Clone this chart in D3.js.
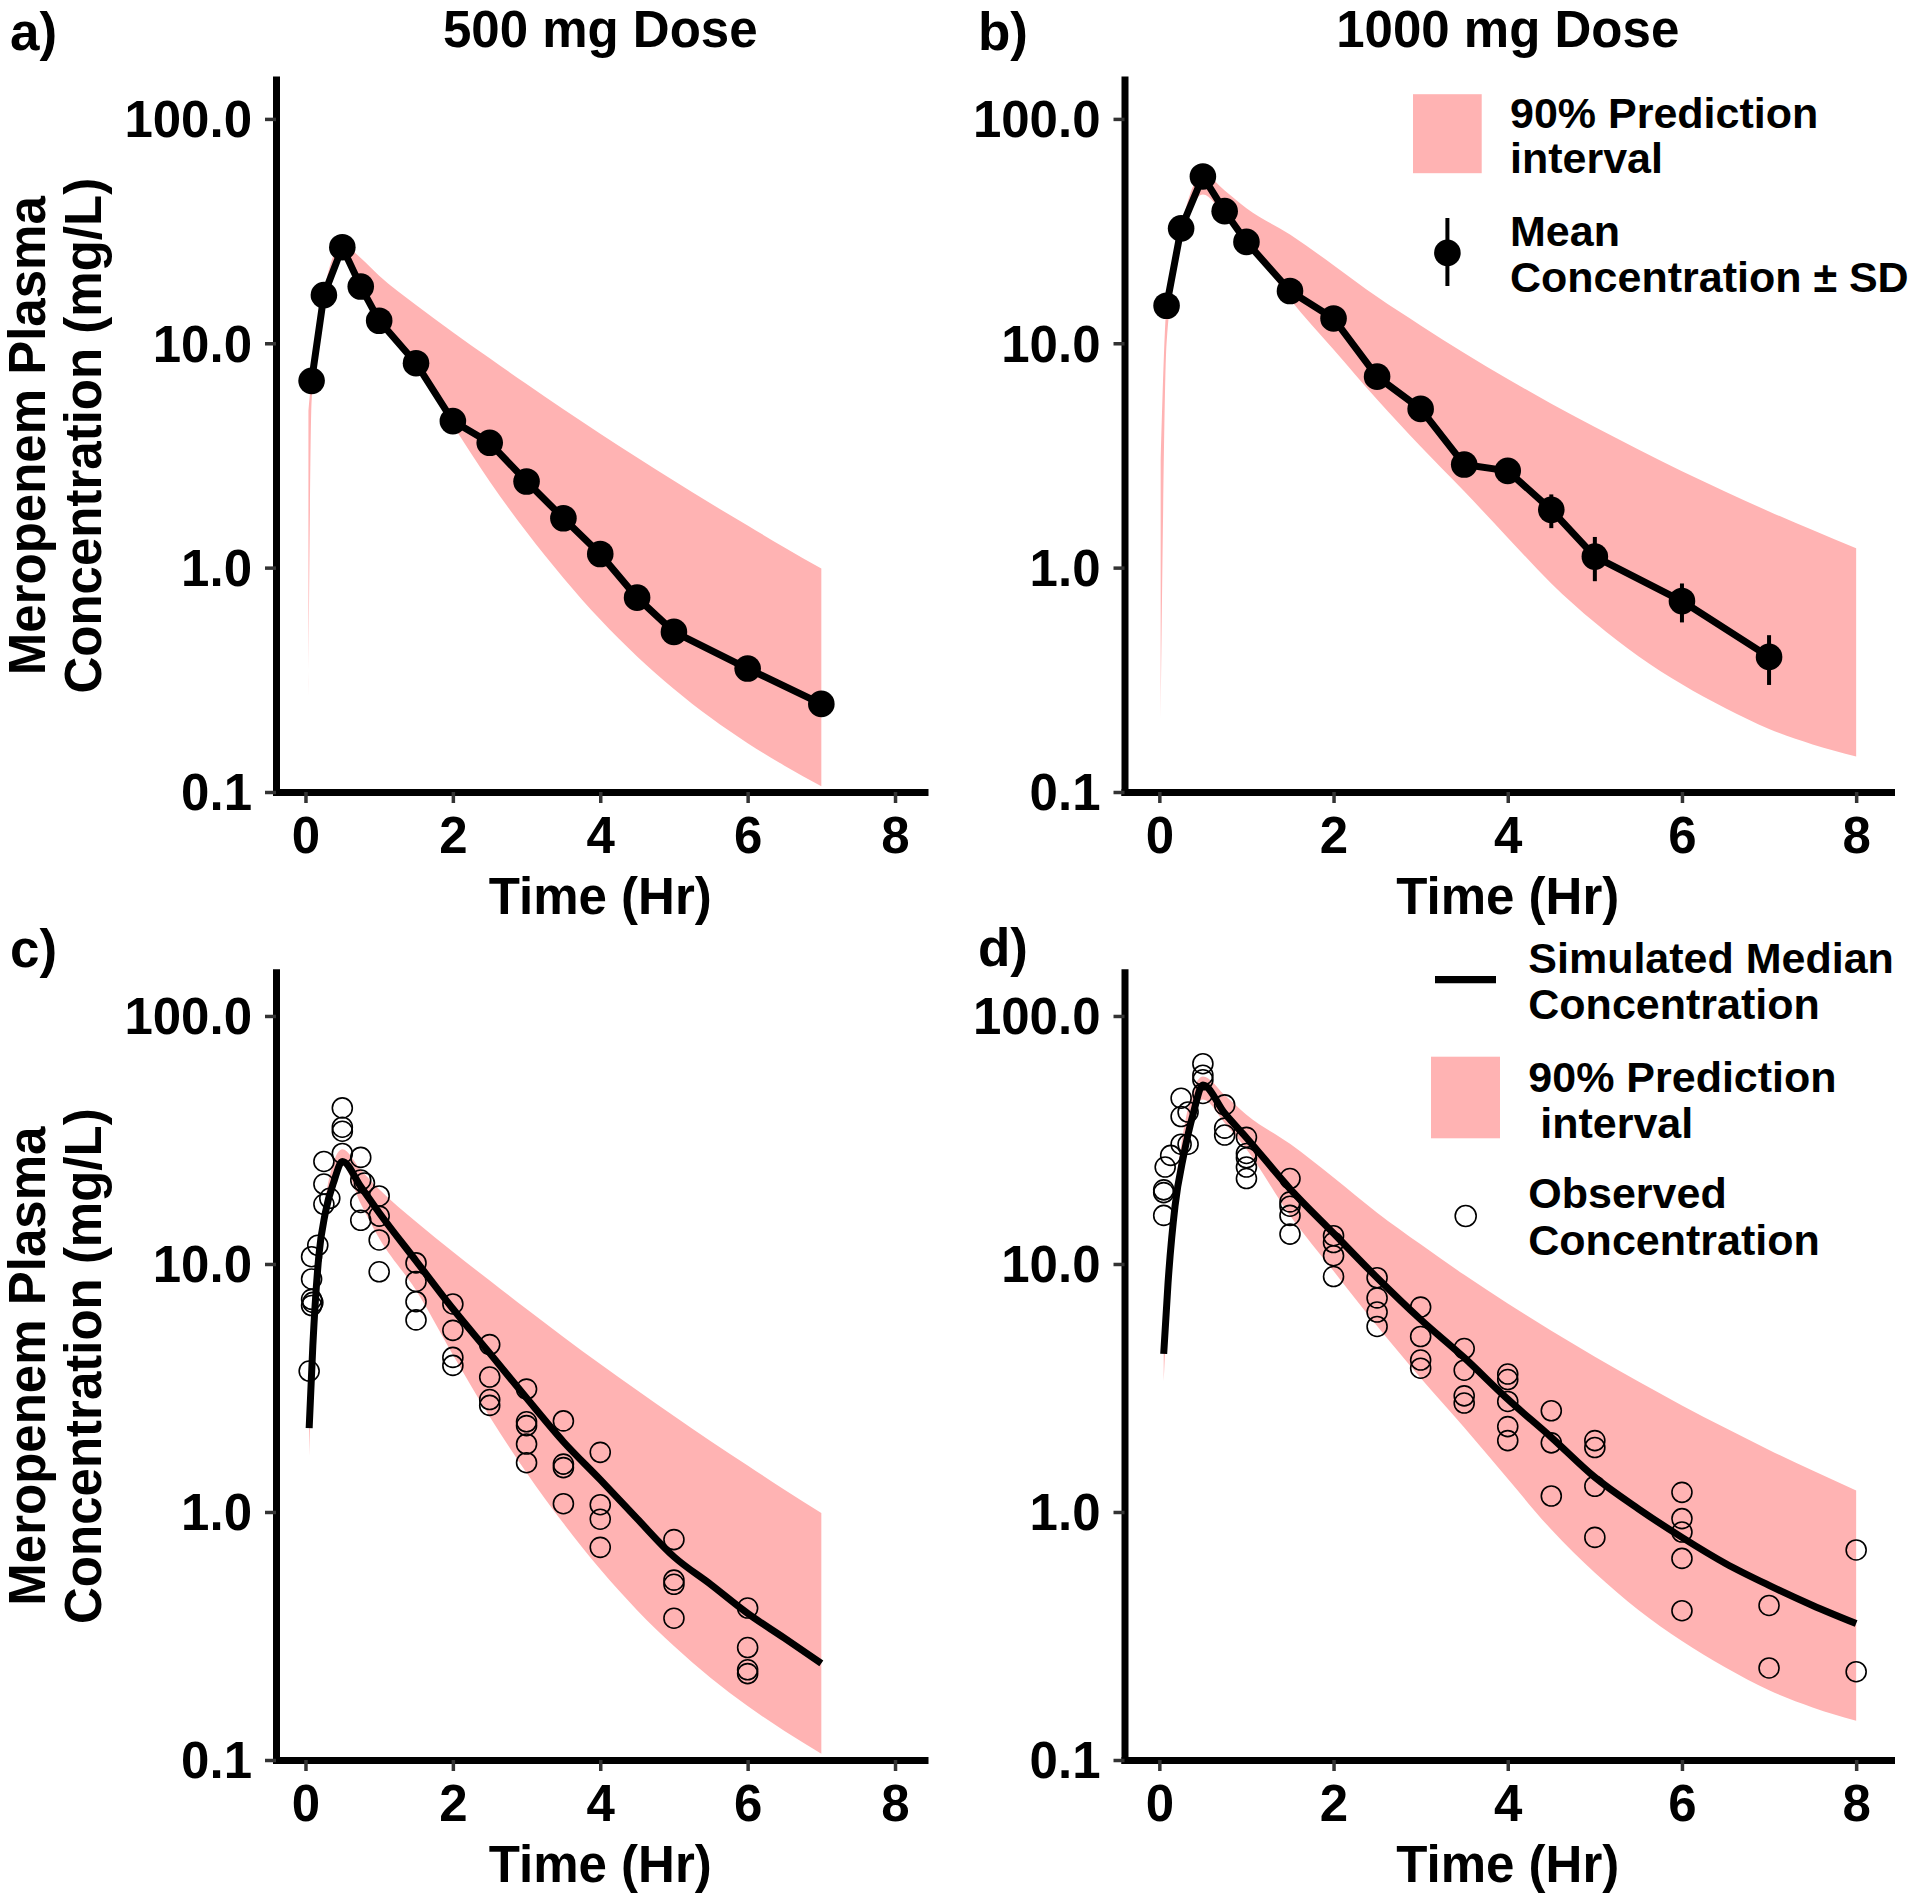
<!DOCTYPE html>
<html>
<head>
<meta charset="utf-8">
<script src="https://cdn.jsdelivr.net/npm/d3@7"></script>
<style>
  html, body { margin: 0; padding: 0; background: #ffffff; }
  svg { display: block; }
  text { font-family: 'Liberation Sans', Arial, sans-serif; font-weight: bold; fill: #000; }
</style>
</head>
<body>
<svg id="chart" width="1920" height="1899"></svg>
<script>
// ---------------- DATA ----------------
const xTicks = [0, 2, 4, 6, 8];
const yTicks = [0.1, 1, 10, 100];
const yTickLabels = ["0.1", "1.0", "10.0", "100.0"];
const panelTitles = ["500 mg Dose", "1000 mg Dose"];
const panelLetters = ["a)", "b)", "c)", "d)"];

// Mean observed concentration ± SD (panels a, b)
const meanTimeA = [0.083, 0.25, 0.5, 0.75, 1, 1.5, 2, 2.5, 3, 3.5, 4, 4.5, 5, 6, 7];
const meanConcA = [6.8, 16.4, 26.8, 17.9, 12.6, 8.15, 4.5, 3.6, 2.42, 1.66, 1.15, 0.735, 0.517, 0.355, 0.247];
const sdConcA   = [0.5, 1.2, 2.0, 1.3, 0.9, 0.6, 0.3, 0.25, 0.17, 0.12, 0.08, 0.05, 0.035, 0.025, 0.018];

const meanTimeB = [0.083, 0.25, 0.5, 0.75, 1, 1.5, 2, 2.5, 3, 3.5, 4, 4.5, 5, 6, 7];
const meanConcB = [14.7, 32.5, 55.4, 38.8, 28.3, 17.1, 12.9, 7.1, 5.1, 2.88, 2.70, 1.81, 1.12, 0.71, 0.40];
const sdConcB   = [1.0, 2.2, 3.8, 2.6, 1.9, 1.2, 0.9, 0.5, 0.38, 0.25, 0.3, 0.31, 0.25, 0.14, 0.10];

// 90% prediction interval, shared decay part
const bandTime500 = [0.75, 1, 1.5, 2, 2.5, 3, 3.5, 4, 4.5, 5, 5.5, 6, 6.5, 7];
const bandLo500   = [17.5, 12.7, 7.83, 4.31, 2.42, 1.44, 0.90, 0.587, 0.402, 0.288, 0.214, 0.165, 0.131, 0.106];
const bandHi500   = [24, 20, 14.8, 11.2, 8.57, 6.58, 5.08, 3.95, 3.10, 2.44, 1.93, 1.54, 1.23, 0.99];

const bandTime1000 = [0.75, 1, 1.5, 2, 2.5, 3, 3.5, 4, 4.5, 5, 5.5, 6, 6.5, 7, 7.5, 8];
const bandLo1000   = [37, 29, 15.7, 9.38, 5.62, 3.47, 2.19, 1.36, 0.85, 0.569, 0.403, 0.302, 0.236, 0.191, 0.163, 0.144];
const bandHi1000   = [48, 40, 30.5, 22.3, 16.1, 12.0, 9.04, 6.93, 5.38, 4.23, 3.36, 2.69, 2.18, 1.78, 1.47, 1.22];

// early (infusion) part of the interval, per panel
const bandEarlyTimeA = [0.04, 0.083, 0.25, 0.5];
const bandEarlyLoA   = [0.27, 5.5, 15, 25];
const bandEarlyHiA   = [5, 7.2, 17, 27.5];
const bandEarlyTimeB = [0.015, 0.083, 0.25, 0.5];
const bandEarlyLoB   = [0.21, 10, 28, 46];
const bandEarlyHiB   = [3, 15, 33, 57];
const bandEarlyTimeC = [0.05, 0.1, 0.25, 0.5];
const bandEarlyLoC   = [1.68, 4.2, 14.5, 25];
const bandEarlyHiC   = [2.5, 5.2, 17, 29];
const bandEarlyTimeD = [0.05, 0.1, 0.25, 0.5];
const bandEarlyLoD   = [3.37, 7.5, 25, 46];
const bandEarlyHiD   = [4.8, 9.5, 30, 57];

// Simulated median concentration (panels c, d)
const medTime500 = [0.05, 0.1, 0.18, 0.27, 0.39, 0.5, 0.75, 1, 1.5, 2, 2.5, 3, 3.5, 4, 4.5, 5, 5.5, 6, 6.5, 7];
const medConc500 = [2.18, 4.7, 10.7, 16.1, 21.7, 25.9, 20.5, 16.1, 10.3, 6.6, 4.37, 2.88, 1.92, 1.35, 0.94, 0.66, 0.51, 0.39, 0.31, 0.245];
const medTime1000 = [0.05, 0.1, 0.18, 0.28, 0.39, 0.5, 0.75, 1, 1.5, 2, 2.5, 3, 3.5, 4, 4.5, 5, 5.5, 6, 6.5, 7, 7.5, 8];
const medConc1000 = [4.34, 8.4, 17.1, 27.5, 40.5, 52.7, 40.5, 32.3, 20.1, 13.3, 8.8, 5.97, 4.19, 2.85, 2.0, 1.38, 1.03, 0.79, 0.62, 0.506, 0.42, 0.355];

// Observed concentrations (panels c, d)
const obsTimeC = [0.05, 0.083, 0.083, 0.083, 0.083, 0.1, 0.167, 0.25, 0.25, 0.25, 0.33,
  0.5, 0.5, 0.5, 0.5, 0.75, 0.75, 0.75, 0.75, 0.8,
  1, 1, 1, 1, 1.5, 1.5, 1.5, 1.5, 2, 2, 2, 2, 2.5, 2.5, 2.5, 2.5,
  3, 3, 3, 3, 3, 3.5, 3.5, 3.5, 3.5, 4, 4, 4, 4, 5, 5, 5, 5, 6, 6, 6, 6];
const obsConcC = [3.7, 10.7, 8.7, 7.2, 6.8, 7.0, 11.9, 25.9, 21.0, 17.4, 18.4,
  42.6, 35.6, 34.3, 27.9, 26.9, 21.8, 17.7, 15.0, 21.2,
  18.8, 15.6, 12.5, 9.3, 10.1, 8.5, 7.05, 5.95, 6.9, 5.4, 4.2, 3.9, 4.73, 3.5, 2.84, 2.69,
  3.13, 2.31, 2.23, 1.88, 1.58, 2.33, 1.56, 1.51, 1.08, 1.74, 1.07, 0.935, 0.72, 0.774, 0.531, 0.511, 0.373, 0.41, 0.284, 0.231, 0.223];

const obsTimeD = [0.05, 0.05, 0.05, 0.067, 0.13, 0.25, 0.25, 0.25, 0.33, 0.33,
  0.5, 0.5, 0.5, 0.5, 0.75, 0.75, 0.75, 1, 1, 1, 1, 1,
  1.5, 1.5, 1.5, 1.5, 1.5, 2, 2, 2, 2, 2.5, 2.5, 2.5, 2.5, 3, 3, 3, 3,
  3.5, 3.5, 3.5, 3.5, 4, 4, 4, 4, 4, 4.5, 4.5, 4.5, 5, 5, 5, 5,
  6, 6, 6, 6, 6, 7, 7, 8, 8];
const obsConcD = [15.7, 19.4, 19.9, 24.6, 27.4, 30.4, 39.3, 46.6, 30.4, 41,
  64.2, 57.7, 55.3, 48.7, 43.8, 35.3, 33.1, 32.4, 27.9, 26.8, 24.6, 22.1,
  22.1, 17.8, 17.1, 15.7, 13.2, 13.0, 12.2, 10.8, 8.9, 8.8, 7.3, 6.4, 5.6, 6.7, 5.1, 4.1, 3.8,
  4.56, 3.73, 2.94, 2.75, 3.6, 3.42, 2.79, 2.21, 1.94, 2.56, 1.9, 1.16, 1.94, 1.82, 1.27, 0.79,
  1.2, 0.94, 0.83, 0.65, 0.40, 0.42, 0.235, 0.703, 0.227];

// Legend texts
const legendTop = [["90% Prediction", "interval"], ["Mean", "Concentration \u00B1 SD"]];
const legendBottom = [["Simulated Median", "Concentration"], ["90% Prediction", " interval"], ["Observed", "Concentration"]];
const xTitle = "Time (Hr)";
const yTitle = ["Meropenem Plasma", "Concentration (mg/L)"];

// ---------------- LAYOUT / STYLE ----------------
const BAND = "#FFB3B3";
const TICKC = "#333333";
const FS = 51, LFS = 43;
const xDomain = [-0.4, 8.4], yDomain = [0.1, 150];

const svg = d3.select("#chart");
const zip = (t, lo, hi) => t.map((d, i) => ({t: d, lo: lo[i], hi: hi[i]}));

const panels = [
  {L: 276, R: 924.5, T: 79.4, B: 792, title: panelTitles[0], letter: panelLetters[0], lx: 10, ly: 50,
   band: zip(bandEarlyTimeA, bandEarlyLoA, bandEarlyHiA).concat(zip(bandTime500, bandLo500, bandHi500)),
   mean: meanTimeA.map((t, i) => ({t, v: meanConcA[i], sd: sdConcA[i]}))},
  {L: 1124.5, R: 1891, T: 79.4, B: 792, title: panelTitles[1], letter: panelLetters[1], lx: 978, ly: 50,
   band: zip(bandEarlyTimeB, bandEarlyLoB, bandEarlyHiB).concat(zip(bandTime1000, bandLo1000, bandHi1000)),
   mean: meanTimeB.map((t, i) => ({t, v: meanConcB[i], sd: sdConcB[i]})), legend: "top"},
  {L: 276, R: 924.5, T: 972.3, B: 1760, letter: panelLetters[2], lx: 10, ly: 967,
   band: zip(bandEarlyTimeC, bandEarlyLoC, bandEarlyHiC).concat(zip(bandTime500, bandLo500, bandHi500)),
   med: medTime500.map((t, i) => ({t, v: medConc500[i]})),
   obs: obsTimeC.map((t, i) => ({t, v: obsConcC[i]}))},
  {L: 1124.5, R: 1891, T: 972.3, B: 1760, letter: panelLetters[3], lx: 978, ly: 966,
   band: zip(bandEarlyTimeD, bandEarlyLoD, bandEarlyHiD).concat(zip(bandTime1000, bandLo1000, bandHi1000)),
   med: medTime1000.map((t, i) => ({t, v: medConc1000[i]})),
   obs: obsTimeD.map((t, i) => ({t, v: obsConcD[i]})), legend: "bottom"}
];

panels.forEach((p, pi) => {
  const x = d3.scaleLinear().domain(xDomain).range([p.L, p.R]);
  const y = d3.scaleLog().domain(yDomain).range([p.B, p.T]);
  const g = svg.append("g");

  // ribbon
  const area = d3.area().x(d => x(d.t)).y0(d => y(d.lo)).y1(d => y(d.hi)).curve(d3.curveMonotoneX);
  g.append("path").datum(p.band).attr("d", area).attr("fill", BAND);

  const line = d3.line().x(d => x(d.t)).y(d => y(d.v));
  if (p.mean) {
    g.append("path").datum(p.mean).attr("d", line)
      .attr("fill", "none").attr("stroke", "#000").attr("stroke-width", 7).attr("stroke-linejoin", "round");
    g.selectAll("line.sd").data(p.mean).enter().append("line")
      .attr("x1", d => x(d.t)).attr("x2", d => x(d.t))
      .attr("y1", d => y(d.v + d.sd)).attr("y2", d => y(Math.max(d.v - d.sd, 0.101)))
      .attr("stroke", "#000").attr("stroke-width", 4);
    g.selectAll("circle.m").data(p.mean).enter().append("circle")
      .attr("cx", d => x(d.t)).attr("cy", d => y(d.v)).attr("r", 13.3).attr("fill", "#000");
  }
  if (p.med) {
    g.append("path").datum(p.med).attr("d", d3.line().x(d => x(d.t)).y(d => y(d.v)).curve(d3.curveMonotoneX))
      .attr("fill", "none").attr("stroke", "#000").attr("stroke-width", 7);
    g.selectAll("circle.o").data(p.obs).enter().append("circle")
      .attr("cx", d => x(d.t)).attr("cy", d => y(d.v)).attr("r", 10)
      .attr("fill", "none").attr("stroke", "#000").attr("stroke-width", 1.6);
  }

  // axes
  const xa = g.append("g").attr("transform", `translate(0,${p.B})`)
    .call(d3.axisBottom(x).tickValues(xTicks).tickFormat(d3.format("d")).tickSize(11).tickSizeOuter(0).tickPadding(13.5));
  const ya = g.append("g").attr("transform", `translate(${p.L},0)`)
    .call(d3.axisLeft(y).tickValues(yTicks).tickFormat((d, i) => yTickLabels[i]).tickSize(11).tickSizeOuter(0).tickPadding(13));
  [xa, ya].forEach(a => {
    a.attr("font-family", null).attr("font-size", null);
    a.select(".domain").attr("stroke", "#000").attr("stroke-width", 7).attr("stroke-linecap", "square");
    a.selectAll(".tick line").attr("stroke", TICKC).attr("stroke-width", 3.5);
    a.selectAll(".tick text").style("font-size", FS + "px").attr("fill", "#000");
  });
  ya.selectAll(".tick text").attr("dy", "0.35em");
  ya.raise();

  const cx = (p.L + p.R) / 2, cy = (p.T + p.B) / 2;
  svg.append("text").attr("x", cx).attr("y", p.B + 121.5).attr("text-anchor", "middle")
    .style("font-size", FS + "px").text(xTitle);
  if (p.L < 500) {
    yTitle.forEach((t, i) => {
      svg.append("text").attr("transform", `translate(${45 + i * 56},${cy}) rotate(-90)`)
        .attr("text-anchor", "middle").style("font-size", FS + "px").text(t);
    });
  }
  if (p.title) {
    svg.append("text").attr("x", cx).attr("y", 47).attr("text-anchor", "middle")
      .style("font-size", FS + "px").text(p.title);
  }
  svg.append("text").attr("x", p.lx).attr("y", p.ly).style("font-size", "53px").text(p.letter);

  // legends
  if (p.legend === "top") {
    const lg = svg.append("g");
    lg.append("rect").attr("x", 1413).attr("y", 94.2).attr("width", 68.7).attr("height", 79).attr("fill", BAND);
    legendTop[0].forEach((t, i) => lg.append("text").attr("x", 1510).attr("y", 127.9 + i * 45.4)
      .style("font-size", LFS + "px").style("white-space", "pre").text(t));
    lg.append("line").attr("x1", 1447.4).attr("x2", 1447.4).attr("y1", 218).attr("y2", 286)
      .attr("stroke", "#000").attr("stroke-width", 4);
    lg.append("circle").attr("cx", 1447.4).attr("cy", 252.9).attr("r", 13.3).attr("fill", "#000");
    legendTop[1].forEach((t, i) => lg.append("text").attr("x", 1510).attr("y", 246 + i * 46)
      .style("font-size", LFS + "px").style("white-space", "pre").text(t));
  }
  if (p.legend === "bottom") {
    const lg = svg.append("g");
    lg.append("line").attr("x1", 1435).attr("x2", 1496).attr("y1", 979.7).attr("y2", 979.7)
      .attr("stroke", "#000").attr("stroke-width", 7.3);
    lg.append("rect").attr("x", 1431).attr("y", 1056.7).attr("width", 69).attr("height", 81.6).attr("fill", BAND);
    lg.append("circle").attr("cx", 1465.7).attr("cy", 1216).attr("r", 10.5)
      .attr("fill", "none").attr("stroke", "#000").attr("stroke-width", 1.6);
    const bases = [972.7, 1091.7, 1208.3];
    legendBottom.forEach((pair, k) => pair.forEach((t, i) =>
      lg.append("text").attr("x", 1528.3).attr("y", bases[k] + i * 46.6)
        .style("font-size", LFS + "px").style("white-space", "pre").text(t)));
  }
});
</script>
</body>
</html>
